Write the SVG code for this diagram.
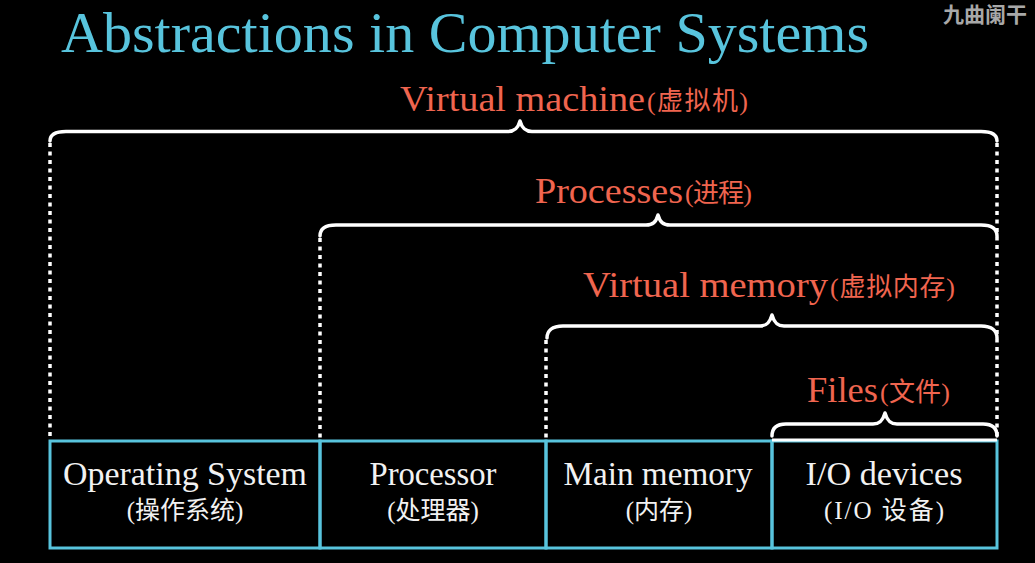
<svg xmlns="http://www.w3.org/2000/svg" width="1035" height="563" viewBox="0 0 1035 563">
<style>
.title{font-family:"Liberation Serif","DejaVu Serif",serif;font-size:57px;fill:#58C4DD}
.lab{font-family:"Liberation Serif","DejaVu Serif",serif;font-size:36px;fill:#F0654F}
.labc{font-family:"Liberation Serif","Noto Sans CJK SC",serif;font-size:26px;fill:#F0654F}
.bt{font-family:"Liberation Serif","DejaVu Serif",serif;font-size:33px;fill:#F2F2F2;text-anchor:middle}
.btc{font-family:"Liberation Serif","Noto Sans CJK SC",serif;font-size:25px;fill:#F2F2F2;text-anchor:middle}
.box{fill:none;stroke:#58C4DD;stroke-width:3}
.brace{fill:none;stroke:#FFFFFF;stroke-width:3.5;stroke-linecap:round;stroke-linejoin:round}
.dot{fill:none;stroke:#FFFFFF;stroke-width:3.5;stroke-dasharray:4 4.5}
.wm{font-family:"Noto Sans CJK SC",sans-serif;font-size:21px;font-weight:bold;fill:#A8A8A8}
</style>
<rect x="0" y="0" width="1035" height="563" fill="#000000"/>
<text class="wm" x="943" y="22">九曲阑干</text>
<text class="title" x="61" y="52" textLength="808" lengthAdjust="spacingAndGlyphs">Abstractions in Computer Systems</text>

<g id="connectors">
<line class="dot" x1="50" y1="143" x2="50" y2="440"/>
<line class="dot" x1="997" y1="143" x2="997" y2="437"/>
<line class="dot" x1="320" y1="238" x2="320" y2="440"/>
<line class="dot" x1="546" y1="340" x2="546" y2="440"/>
<path class="brace" d="M50,141 C50,135 55,131.5 66,131.5 L508,131.5 C515,131.5 518,128 520,121 C522,128 525,131.5 532,131.5 L981,131.5 C992,131.5 997,135 997,141"/>
<path class="brace" d="M320,236 C320,229 325,225 336,225 L646,225 C653,225 656,222 658,215 C660,222 663,225 670,225 L981,225 C992,225 997,229 997,236"/>
<path class="brace" d="M547,338 C547,331 552,326 563,326 L760,326 C767,326 770,322 772,315 C774,322 777,326 784,326 L981,326 C992,326 997,331 997,338"/>
<path class="brace" d="M772,436 C772,429 776,424 786,424 L873,424 C880,424 883,420 885,413 C887,420 890,424 897,424 L983,424 C993,424 997,429 997,436"/>
</g>

<g id="label-virtual-machine">
<text class="lab" x="400" y="111" textLength="245" lengthAdjust="spacingAndGlyphs">Virtual machine</text>
<text class="labc" x="647" y="110" textLength="101" lengthAdjust="spacing">(虚拟机)</text>
</g>
<g id="label-processes">
<text class="lab" x="535" y="203" textLength="148" lengthAdjust="spacingAndGlyphs">Processes</text>
<text class="labc" x="685" y="202" textLength="67" lengthAdjust="spacing">(进程)</text>
</g>
<g id="label-virtual-memory">
<text class="lab" x="583" y="297" textLength="245" lengthAdjust="spacingAndGlyphs">Virtual memory</text>
<text class="labc" x="830" y="296" textLength="125" lengthAdjust="spacing">(虚拟内存)</text>
</g>
<g id="label-files">
<text class="lab" x="807" y="402" textLength="71" lengthAdjust="spacingAndGlyphs">Files</text>
<text class="labc" x="880" y="401" textLength="70" lengthAdjust="spacing">(文件)</text>
</g>

<g id="node-os">
<rect class="box" x="50" y="441" width="270" height="107"/>
<text class="bt" x="185" y="485" textLength="244" lengthAdjust="spacingAndGlyphs">Operating System</text>
<text class="btc" x="185" y="519">(操作系统)</text>
</g>
<g id="node-processor">
<rect class="box" x="320" y="441" width="226" height="107"/>
<text class="bt" x="433" y="485" textLength="127" lengthAdjust="spacingAndGlyphs">Processor</text>
<text class="btc" x="433" y="519">(处理器)</text>
</g>
<g id="node-main-memory">
<rect class="box" x="546" y="441" width="226" height="107"/>
<text class="bt" x="658" y="485" textLength="189" lengthAdjust="spacingAndGlyphs">Main memory</text>
<text class="btc" x="659" y="519">(内存)</text>
</g>
<g id="node-io">
<rect class="box" x="772" y="441" width="225" height="107"/>
<line x1="772" y1="440" x2="997" y2="440" stroke="#FFFFFF" stroke-width="3"/>
<text class="bt" x="884" y="485" textLength="157" lengthAdjust="spacingAndGlyphs">I/O devices</text>
<text class="btc" x="884" y="519" textLength="120" lengthAdjust="spacing">(I/O 设备)</text>
</g>
</svg>
